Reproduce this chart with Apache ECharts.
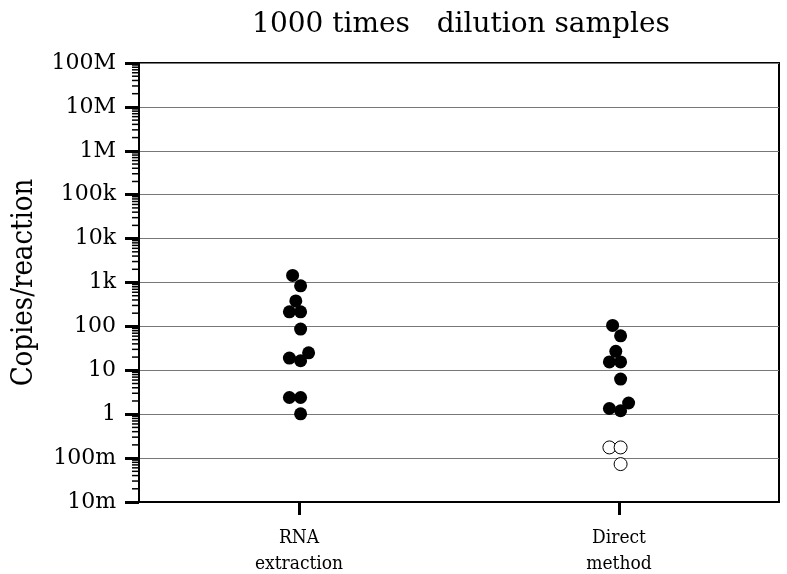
<!DOCTYPE html>
<html><head><meta charset="utf-8">
<script src="https://cdn.jsdelivr.net/npm/echarts@6/dist/echarts.min.js"></script>
<style>html,body{margin:0;padding:0;background:#fff}#c{width:787px;height:574px}</style>
</head><body><div id="c"></div>
<script>
var categories = ['RNA\nextraction', 'Direct\nmethod'];
var tickLabels = ['10m','100m','1','10','100','1k','10k','100k','1M','10M','100M'];
// jitter offsets (in category widths) and values
var rnaJitter = [-0.02, 0.005, -0.01, -0.03, 0.005, 0.005, 0.03, -0.03, 0.005, -0.03, 0.005, 0.005];
var rnaValues = [1450, 840, 380, 215, 215, 87, 25, 19, 16.5, 2.4, 2.4, 1.02];
var directJitter = [-0.02, 0.005, -0.01, -0.03, 0.005, 0.005, 0.03, -0.03, 0.005];
var directValues = [105, 61, 27, 15.5, 15.5, 6.3, 1.8, 1.35, 1.2];
var directLodJitter = [-0.03, 0.005, 0.005];
var directLodValues = [0.175, 0.175, 0.073];
var minorMultipliers = [2, 3, 4, 5, 6, 7, 8, 9];
var decadeExponents = [-2, -1, 0, 1, 2, 3, 4, 5, 6, 7];

function pts(center, jit, vals){ return vals.map(function(v,i){ return [center + jit[i], v]; }); }
var minorVals = [];
decadeExponents.forEach(function(e){ minorMultipliers.forEach(function(m){ minorVals.push([0, m * Math.pow(10, e)]); }); });

var serif = 'DejaVu Serif';
var serifC = '"DejaVu Serif Condensed", "DejaVu Serif"';
var chart = echarts.init(document.getElementById('c'));
chart.setOption({
  backgroundColor: '#fff',
  animation: false,
  title: { text: '1000 times   dilution samples', left: 456, top: 6, textAlign: 'center',
    textStyle: { fontFamily: serif, fontSize: 28, fontWeight: 'normal', color: '#000' } },
  grid: { left: 139, right: 8, top: 63, bottom: 72, show: true, borderColor: '#000', borderWidth: 2,
    containLabel: false, outerBoundsMode: 'none' },
  xAxis: [
    { type: 'category', data: categories, position: 'bottom',
      axisLine: { show: true, lineStyle: { color: '#000', width: 2 } },
      axisTick: { show: true, alignWithLabel: true, length: 13, lineStyle: { color: '#000', width: 3 } },
      axisLabel: { fontFamily: serifC, fontSize: 19, color: '#000', margin: 23, lineHeight: 26 } },
    { type: 'value', min: 0, max: 2, show: false }
  ],
  yAxis: {
    type: 'log', logBase: 10, min: 0.01, max: 1e8, interval: 1,
    name: 'Copies/reaction', nameLocation: 'middle', nameGap: 100,
    nameTextStyle: { fontFamily: serifC, fontSize: 29, color: '#000' },
    axisLine: { show: true, lineStyle: { color: '#000', width: 2 } },
    axisTick: { show: true, length: 14, lineStyle: { color: '#000', width: 3 } },
    axisLabel: { fontFamily: serif, fontSize: 22, color: '#000', margin: 23,
      formatter: function(v){ var i = Math.round(Math.log10(v)) + 2; return tickLabels[i] || ''; } },
    splitLine: { show: true, lineStyle: { color: '#777', width: 1 } }
  },
  series: [
    { type: 'custom', xAxisIndex: 1, data: minorVals, clip: false, silent: true,
      renderItem: function(params, api){
        var p = api.coord([0, api.value(1)]);
        return { type: 'line', shape: { x1: p[0] - 7, y1: p[1], x2: p[0], y2: p[1] },
          style: { stroke: '#000', lineWidth: 1.5 } };
      } },
    { type: 'scatter', xAxisIndex: 1, data: pts(0.5, rnaJitter, rnaValues), symbolSize: 13,
      itemStyle: { color: '#000', opacity: 1 } },
    { type: 'scatter', xAxisIndex: 1, data: pts(1.5, directJitter, directValues), symbolSize: 13,
      itemStyle: { color: '#000', opacity: 1 } },
    { type: 'scatter', xAxisIndex: 1, data: pts(1.5, directLodJitter, directLodValues), symbolSize: 13,
      itemStyle: { color: '#fff', borderColor: '#000', borderWidth: 1, opacity: 1 } }
  ]
});
</script></body></html>
